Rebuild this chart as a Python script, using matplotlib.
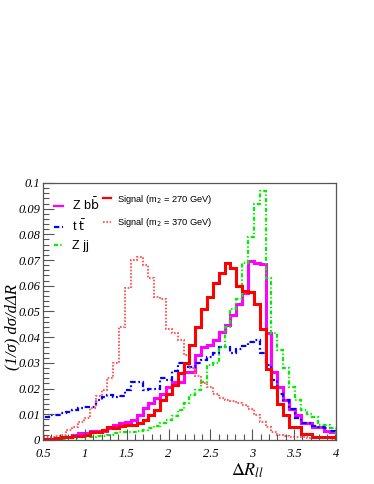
import numpy as np
import matplotlib
matplotlib.use("Agg")
import matplotlib.pyplot as plt
from matplotlib.lines import Line2D
from matplotlib.ticker import MultipleLocator, FuncFormatter

# ---------------- data (50 bins of width 0.07, 0.5 -> 4.0) ---------------- #
dr_lo, dr_hi, n_bins = 0.5, 4.0, 50

zbb = [0.0005, 0.0005, 0.0007, 0.001, 0.001, 0.002, 0.0027, 0.0027, 0.0035, 0.0035,
       0.0035, 0.0045, 0.006, 0.0066, 0.007, 0.0078, 0.0097, 0.0124, 0.0144, 0.0163,
       0.018, 0.0206, 0.0226, 0.0226, 0.0265, 0.0265, 0.033, 0.036, 0.037, 0.039,
       0.042, 0.0447, 0.0486, 0.053, 0.057, 0.0697, 0.069, 0.0685, 0.0416, 0.0265,
       0.0206, 0.0155, 0.012, 0.0097, 0.0066, 0.0066, 0.005, 0.005, 0.0035, 0.003]

ttbar = [0.0091, 0.0097, 0.0097, 0.0105, 0.011, 0.0115, 0.0124, 0.0128, 0.013, 0.0155,
         0.0167, 0.0175, 0.0167, 0.017, 0.0195, 0.0226, 0.0226, 0.0195, 0.020, 0.020,
         0.024, 0.0235, 0.027, 0.030, 0.0285, 0.0285, 0.030, 0.031, 0.0323, 0.034,
         0.036, 0.036, 0.034, 0.0355, 0.0365, 0.038, 0.039, 0.034, 0.029, 0.0235,
         0.018, 0.0155, 0.012, 0.0085, 0.0066, 0.0066, 0.0056, 0.005, 0.0045, 0.0035]

zjj = [0.0003, 0.0003, 0.0003, 0.0005, 0.0007, 0.0007, 0.001, 0.001, 0.0012, 0.0015,
       0.0015, 0.002, 0.0026, 0.003, 0.003, 0.003, 0.0035, 0.004, 0.0045, 0.0055,
       0.0065, 0.0078, 0.0095, 0.0117, 0.0144, 0.0175, 0.0195, 0.0226, 0.029, 0.030,
       0.036, 0.044, 0.051, 0.055, 0.069, 0.079, 0.092, 0.097, 0.063, 0.0416,
       0.035, 0.028, 0.0206, 0.0155, 0.0117, 0.010, 0.009, 0.006, 0.006, 0.0047]

sig270 = [0.0005, 0.0005, 0.0008, 0.001, 0.001, 0.0015, 0.0015, 0.002, 0.003, 0.003,
          0.004, 0.005, 0.0045, 0.0055, 0.006, 0.006, 0.0065, 0.0078, 0.0097, 0.0117,
          0.0156, 0.018, 0.0214, 0.026, 0.030, 0.037, 0.044, 0.051, 0.0556, 0.061,
          0.065, 0.069, 0.067, 0.060, 0.058, 0.0575, 0.053, 0.043, 0.0275, 0.0205,
          0.014, 0.0098, 0.005, 0.005, 0.0025, 0.0023, 0.0012, 0.0012, 0.001, 0.001]

sig370 = [0.001, 0.001, 0.0015, 0.002, 0.004, 0.005, 0.007, 0.0085, 0.0125, 0.017,
          0.0195, 0.024, 0.030, 0.044, 0.059, 0.070, 0.071, 0.068, 0.063, 0.0555,
          0.055, 0.043, 0.0415, 0.039, 0.033, 0.028, 0.025, 0.022, 0.0205, 0.018,
          0.0165, 0.0155, 0.015, 0.0145, 0.0135, 0.012, 0.0097, 0.007, 0.005, 0.003,
          0.002, 0.0015, 0.0012, 0.001, 0.001, 0.0008, 0.0008, 0.0008, 0.0008, 0.0005]

edges = np.linspace(dr_lo, dr_hi, n_bins + 1)

# styles per sample
st_zbb = dict(color='#ff00ff', lw=2.2)
st_tt = dict(color='#0000ff', lw=1.6, linestyle=(0, (2.4, 1.2, 0.8, 1.2)))
st_zjj = dict(color='#00ee00', lw=1.6, linestyle=(0, (1.8, 1.0, 0.6, 1.0)))
st_370 = dict(color='#ff6060', lw=1.5, linestyle=(0, (0.8, 0.8)))
st_270 = dict(color='#ff0000', lw=2.2)

# ---------------- plot ---------------- #
plt.rcParams['mathtext.fontset'] = 'stix'
fig = plt.figure(figsize=(3.74, 4.84), dpi=100)
ax = fig.add_axes([0.115, 0.091, 0.783, 0.531])

ax.stairs(zbb, edges, **st_zbb)
ax.stairs(ttbar, edges, **st_tt)
ax.stairs(zjj, edges, **st_zjj)
ax.stairs(sig370, edges, **st_370)
ax.stairs(sig270, edges, **st_270)

ax.set_xlim(dr_lo, dr_hi)
ax.set_ylim(0, 0.1)

tick_font = dict(family='Liberation Serif', style='italic', size=9)
ax.xaxis.set_major_locator(MultipleLocator(0.5))
ax.xaxis.set_minor_locator(MultipleLocator(0.1))
ax.yaxis.set_major_locator(MultipleLocator(0.01))
ax.yaxis.set_minor_locator(MultipleLocator(0.002))
fmt = FuncFormatter(lambda v, p: f'{v:.3g}')
ax.xaxis.set_major_formatter(fmt)
ax.yaxis.set_major_formatter(fmt)
ax.tick_params(which='both', direction='in', top=False, right=False, color='#555555')
ax.tick_params(which='major', length=8, width=0.8)
ax.tick_params(which='minor', length=4, width=0.8)
ax.tick_params(axis='y', which='major', pad=2)
ax.tick_params(axis='x', which='major', pad=5.5)
for lab in ax.get_xticklabels() + ax.get_yticklabels():
    lab.set_fontproperties(matplotlib.font_manager.FontProperties(**tick_font))
for sp in ax.spines.values():
    sp.set_color('#555555')
    sp.set_linewidth(0.9)

ax.set_ylabel('(1/σ) dσ/dΔR', family='Liberation Serif', style='italic', size=12)
ax.yaxis.set_label_coords(-0.078, 0.44)
ax.set_xlabel(r'$\Delta R_{ll}$', size=13)
ax.xaxis.set_label_coords(0.70, -0.085)

# legend: short line handles like ROOT
def proxy(st):
    return Line2D([], [], **{**st, 'lw': min(st['lw'], 1.6)})

leg1 = ax.legend([proxy(st_zbb), proxy(st_tt), proxy(st_zjj)],
                 [r'Z b$\bar{\mathrm{b}}$', r't $\bar{\mathrm{t}}$', 'Z jj'],
                 loc='upper left', bbox_to_anchor=(0.0, 0.99), frameon=False,
                 handlelength=0.7, handletextpad=0.7, labelspacing=0.45,
                 prop=dict(family='Liberation Sans', size=9))
for t in leg1.get_texts():
    t.set_math_fontfamily('dejavusans')
ax.add_artist(leg1)
leg2 = ax.legend([proxy(st_270), proxy(st_370)],
                 [r'Signal (m$_{2}$ = 270 GeV)', r'Signal (m$_{2}$ = 370 GeV)'],
                 loc='upper left', bbox_to_anchor=(0.175, 0.995), frameon=False,
                 handlelength=0.9, handletextpad=0.6, labelspacing=1.1,
                 prop=dict(family='Liberation Sans', size=6.7))
for t in leg2.get_texts():
    t.set_math_fontfamily('dejavusans')

fig.savefig('out.png', dpi=100)
